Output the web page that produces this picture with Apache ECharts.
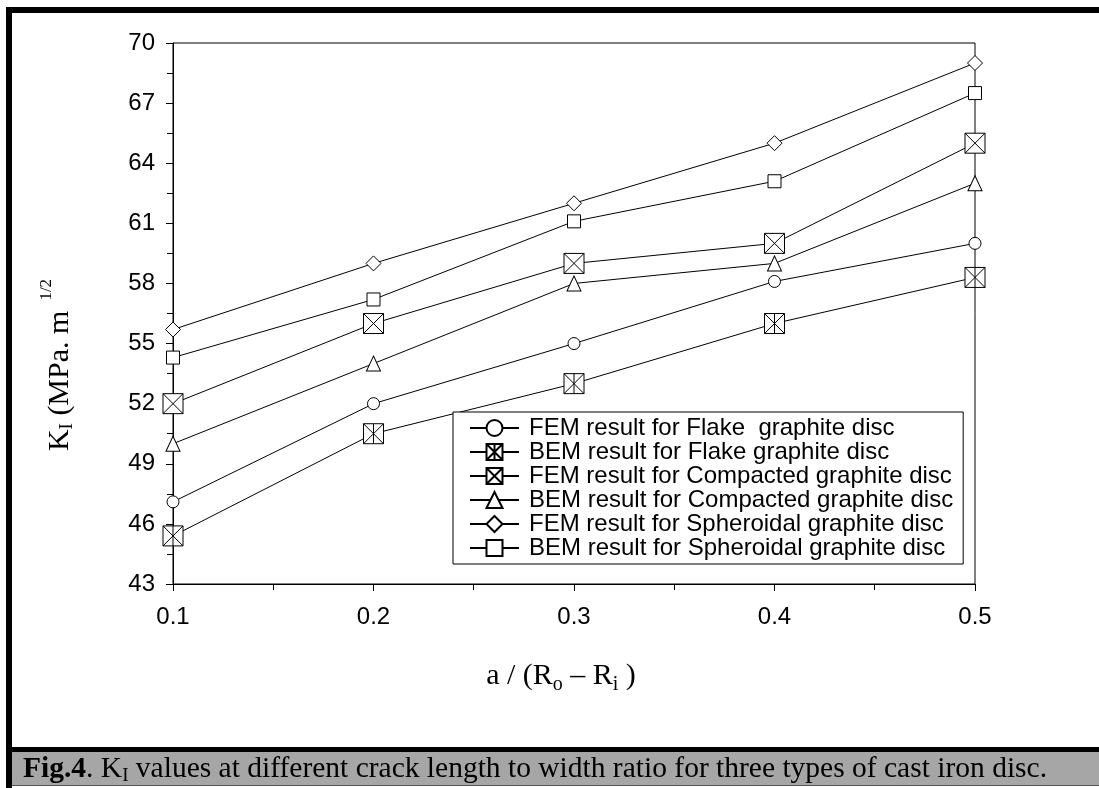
<!DOCTYPE html>
<html>
<head>
<meta charset="utf-8">
<script src="https://cdn.jsdelivr.net/npm/echarts@6/dist/echarts.min.js"></script>
<style>
  html, body { margin: 0; padding: 0; background: #fff; }
  #chart { width: 1099px; height: 788px; }
</style>
</head>
<body>
<div id="chart"></div>
<script>
// crack length ratio a/(Ro-Ri)
var ratios = [0.1, 0.2, 0.3, 0.4, 0.5];
// KI values
var femFlake = [47.1, 52.0, 55.0, 58.1, 60.0];
var bemFlake = [45.4, 50.5, 53.0, 56.0, 58.3];
var femCompacted = [52.0, 56.0, 59.0, 60.0, 65.0];
var bemCompacted = [50.0, 54.0, 58.0, 59.0, 63.0];
var femSpheroidal = [55.7, 59.0, 62.0, 65.0, 69.0];
var bemSpheroidal = [54.3, 57.2, 61.1, 63.1, 67.5];
var seriesNames = [
    'FEM result for Flake  graphite disc',
    'BEM result for Flake graphite disc',
    'FEM result for Compacted graphite disc',
    'BEM result for Compacted graphite disc',
    'FEM result for Spheroidal graphite disc',
    'BEM result for Spheroidal graphite disc'
];

var boxX = 'path://M0,0L20,0L20,20L0,20ZM0,0L20,20M20,0L0,20';
var boxStar = 'path://M0,0L20,0L20,20L0,20ZM0,0L20,20M20,0L0,20M10,0L10,20';

function pairs(ys) {
    return ys.map(function (y, i) { return [ratios[i], y]; });
}

function makeSeries(name, ys, symbol, size) {
    return {
        name: name,
        type: 'line',
        data: pairs(ys),
        symbol: symbol,
        symbolSize: size,
        showAllSymbol: true,
        lineStyle: { color: '#000', width: 1 },
        itemStyle: { color: '#fff', borderColor: '#000', borderWidth: 1 },
        emphasis: { disabled: true },
        z: 3
    };
}

var sans = 'Liberation Sans, Arial, sans-serif';
var serif = 'Liberation Serif, Times New Roman, serif';

var myChart = echarts.init(document.getElementById('chart'));
var option = {
    animation: false,
    grid: {
        left: 173, right: 124, top: 43, bottom: 204,
        show: true, borderColor: '#000', borderWidth: 1, backgroundColor: 'transparent'
    },
    legend: {
        orient: 'vertical',
        left: 453, top: 412,
        padding: [4, 10, 4, 16],
        borderColor: '#000', borderWidth: 1,
        backgroundColor: '#fff',
        itemWidth: 49, itemHeight: 20, itemGap: 0,
        textStyle: { fontFamily: sans, fontSize: 24, color: '#000', lineHeight: 20, padding: [0, 0, 0, 5] },
        data: seriesNames
    },
    xAxis: {
        type: 'value',
        min: 0.1, max: 0.5, interval: 0.1,
        axisLine: { lineStyle: { color: '#000', width: 1 } },
        axisTick: { length: 7, lineStyle: { color: '#000' } },
        minorTick: { show: true, splitNumber: 2, length: 6, lineStyle: { color: '#000' } },
        splitLine: { show: false },
        axisLabel: {
            margin: 21, fontFamily: sans, fontSize: 24, color: '#000',
            formatter: function (v) { return v.toFixed(1); }
        }
    },
    yAxis: {
        type: 'value',
        min: 43, max: 70, interval: 3,
        axisLine: { show: true, lineStyle: { color: '#000', width: 1 } },
        axisTick: { show: true, length: 7, lineStyle: { color: '#000' } },
        minorTick: { show: true, splitNumber: 2, length: 6, lineStyle: { color: '#000' } },
        splitLine: { show: false },
        axisLabel: { margin: 18, fontFamily: sans, fontSize: 24, color: '#000' }
    },
    series: [
        makeSeries(seriesNames[0], femFlake, 'circle', 12),
        makeSeries(seriesNames[1], bemFlake, boxStar, 20),
        makeSeries(seriesNames[2], femCompacted, boxX, 20),
        makeSeries(seriesNames[3], bemCompacted, 'triangle', [14, 15]),
        makeSeries(seriesNames[4], femSpheroidal, 'diamond', 15),
        makeSeries(seriesNames[5], bemSpheroidal, 'rect', 13)
    ],
    graphic: [
        // outer frame
        { type: 'rect', shape: { x: 6, y: 7, width: 1093, height: 6 }, style: { fill: '#000' } },
        { type: 'rect', shape: { x: 6, y: 7, width: 6, height: 781 }, style: { fill: '#000' } },
        { type: 'rect', shape: { x: 6, y: 747, width: 1093, height: 5 }, style: { fill: '#000' } },
        { type: 'rect', shape: { x: 12, y: 752, width: 1087, height: 33 }, style: { fill: '#a6a6a6' } },
        { type: 'rect', shape: { x: 12, y: 785, width: 1087, height: 1 }, style: { fill: '#555' } },
        // y axis title
        {
            type: 'text', x: 60, y: 365, rotation: Math.PI / 2,
            style: {
                text: '{k|K}{s|I}{k| (MPa. m}{p|1/2}',
                align: 'center', verticalAlign: 'middle',
                fill: '#000',
                rich: {
                    k: { fontFamily: serif, fontSize: 30, lineHeight: 44, verticalAlign: 'middle' },
                    s: { fontFamily: serif, fontSize: 19, lineHeight: 19, verticalAlign: 'bottom', padding: [0, 0, 5, 0] },
                    p: { fontFamily: serif, fontSize: 17, lineHeight: 17, verticalAlign: 'top', padding: [0, 0, 0, 10] }
                }
            }
        },
        // x axis title
        {
            type: 'text', x: 561, y: 676,
            style: {
                text: '{k|a / (R}{s|o}{k| – R}{s|i}{k| )}',
                align: 'center', verticalAlign: 'middle',
                fill: '#000',
                rich: {
                    k: { fontFamily: serif, fontSize: 30, lineHeight: 38, verticalAlign: 'middle' },
                    s: { fontFamily: serif, fontSize: 20, lineHeight: 20, verticalAlign: 'bottom' }
                }
            }
        },
        // caption
        {
            type: 'text', x: 23, y: 769,
            style: {
                text: '{b|Fig.4}{n|. K}{s|I}{n| values at different crack length to width ratio for three types of cast iron disc.}',
                align: 'left', verticalAlign: 'middle',
                fill: '#000',
                rich: {
                    b: { fontFamily: serif, fontSize: 29.5, fontWeight: 'bold', lineHeight: 34, verticalAlign: 'middle' },
                    n: { fontFamily: serif, fontSize: 29.5, lineHeight: 34, verticalAlign: 'middle' },
                    s: { fontFamily: serif, fontSize: 19, lineHeight: 19, verticalAlign: 'bottom' }
                }
            }
        }
    ]
};
myChart.setOption(option);
</script>
</body>
</html>
